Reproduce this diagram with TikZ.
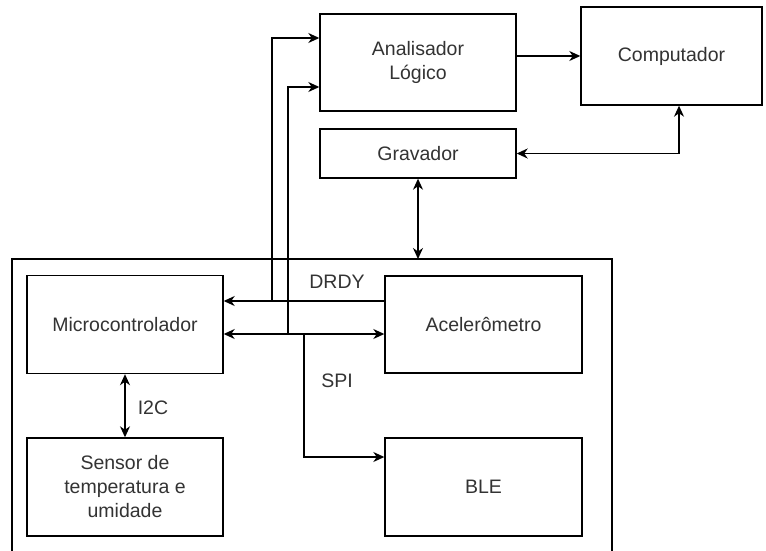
\documentclass[tikz,border=0pt]{standalone}
\usepackage{fontspec}
\setmainfont{Liberation Sans}
\usetikzlibrary{arrows.meta}
\definecolor{txt}{HTML}{333333}
\begin{document}
\begin{tikzpicture}[x=1pt,y=-1pt,
  box/.style={draw=black,line width=1.4pt,fill=white,align=center,text=txt,
    font=\fontsize{19.5}{24}\selectfont,inner sep=0pt},
  lbl/.style={text=txt,font=\fontsize{19.5}{24}\selectfont,inner sep=0pt},
  conn/.style={draw=black,line width=1.4pt},
  tip/.tip={Stealth[length=11pt,width=10pt,inset=3.5pt]},
  >=tip]
\useasboundingbox (0,0) rectangle (766,551);
\fill[white] (0,0) rectangle (766,551);
% outer board box (bottom edge beyond the picture)
\draw[conn] (12,560) -- (12,259) -- (612,259) -- (612,560);
\coordinate (bt) at (418,259);
% nodes
\node[box,minimum width=196pt,minimum height=97pt] (an) at (418,62.5) {Analisador\\Lógico};
\node[box,minimum width=181pt,minimum height=98pt] (cp) at (671.5,56) {Computador};
\node[box,minimum width=196pt,minimum height=49pt] (gr) at (418,153.5) {Gravador};
\node[box,minimum width=196pt,minimum height=98pt] (mc) at (125,324.5) {Microcontrolador};
\node[box,minimum width=196pt,minimum height=98pt] (se) at (125,487) {Sensor de\\temperatura e\\umidade};
\node[box,minimum width=197pt,minimum height=97pt] (ac) at (483.5,324.5) {Acelerômetro};
\node[box,minimum width=197pt,minimum height=98pt] (bl) at (483.5,487) {BLE};
% labels
\node[lbl] (ldrdy) at (337,282) {DRDY};
\node[lbl] (lspi) at (337,381) {SPI};
\node[lbl] (li2c) at (153,408) {I2C};
% junctions
\coordinate (j1) at (272,301);
\coordinate (j2) at (288,334);
\coordinate (j3) at (304,334);
% connectors
\draw[conn,->] (an.east |- cp.west) -- (cp.west);
\draw[conn,<->] (gr.east) -| ([xshift=7.5pt]cp.south);
\draw[conn,<->] (gr.south) -- (bt);
\draw[conn,->] ([yshift=23.5pt]ac.west) -- ([yshift=23.5pt]mc.east);
\draw[conn,->] (j1) |- ([yshift=24.5pt]an.west);
\draw[conn,<->] ([yshift=-9.5pt]mc.east) -- ([yshift=-9.5pt]ac.west);
\draw[conn,->] (j2) |- ([yshift=-24.5pt]an.west);
\draw[conn,->] (j3) |- ([yshift=30pt]bl.west);
\draw[conn,<->] (mc.south) -- (se.north);
\end{tikzpicture}
\end{document}
